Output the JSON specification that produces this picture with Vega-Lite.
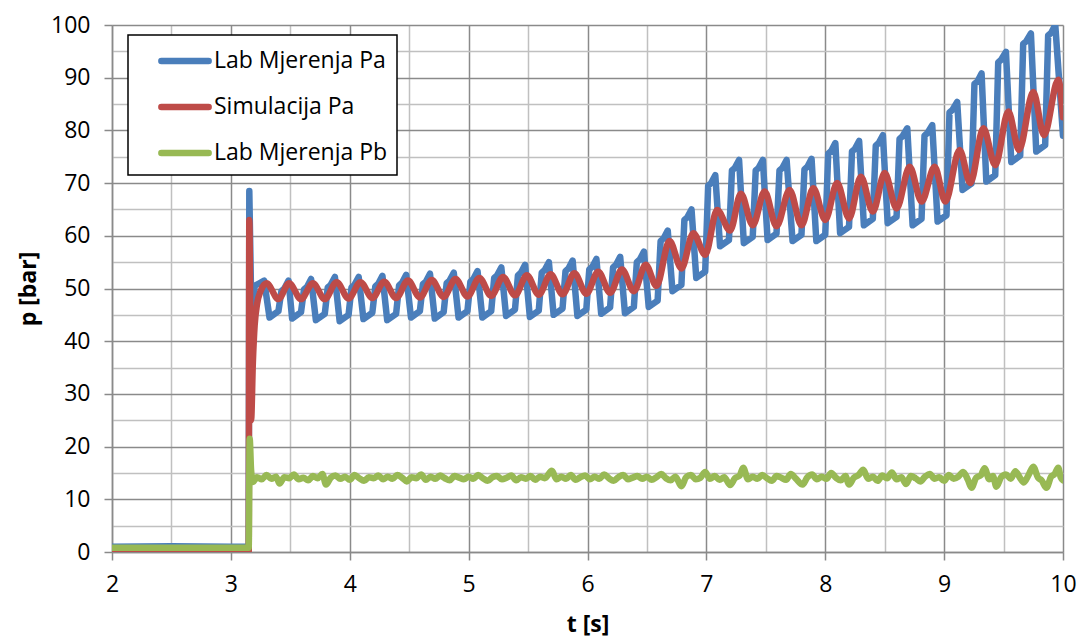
{
  "$schema": "https://vega.github.io/schema/vega-lite/v6.json",
  "width": 951,
  "height": 527,
  "autosize": {"type": "none"},
  "padding": {"left": 112, "top": 25, "right": 15, "bottom": 90},
  "background": "white",
  "config": {
    "view": {"stroke": null},
    "font": "Open Sans",
    "axis": {"labelColor": "#000000", "titleColor": "#000000", "labelFont": "Open Sans", "titleFont": "Open Sans"}
  },
  "datasets": {
    "blue": [
      {"t": 2.0, "p": 1.0}, {"t": 2.5, "p": 1.1}, {"t": 3.0, "p": 1.0}, {"t": 3.15, "p": 1.0},
      {"t": 3.155, "p": 68.5}, {"t": 3.175, "p": 42.0}, {"t": 3.2, "p": 50.5}, {"t": 3.24, "p": 51.0}, {"t": 3.28, "p": 51.5},
      {"t": 3.325, "p": 44.5}, {"t": 3.4, "p": 45.7}, {"t": 3.425, "p": 49.5}, {"t": 3.45, "p": 50.0}, {"t": 3.485, "p": 51.5},
      {"t": 3.515, "p": 44.3}, {"t": 3.59, "p": 45.5}, {"t": 3.615, "p": 49.8}, {"t": 3.64, "p": 50.3}, {"t": 3.675, "p": 51.8},
      {"t": 3.715, "p": 44.0}, {"t": 3.79, "p": 45.2}, {"t": 3.815, "p": 50.2}, {"t": 3.84, "p": 50.7}, {"t": 3.875, "p": 52.2},
      {"t": 3.915, "p": 43.8}, {"t": 3.99, "p": 45.0}, {"t": 4.015, "p": 50.2}, {"t": 4.04, "p": 50.7}, {"t": 4.075, "p": 52.2},
      {"t": 4.115, "p": 44.2}, {"t": 4.19, "p": 45.4}, {"t": 4.215, "p": 50.4}, {"t": 4.24, "p": 50.9}, {"t": 4.275, "p": 52.4},
      {"t": 4.315, "p": 44.0}, {"t": 4.39, "p": 45.2}, {"t": 4.415, "p": 50.6}, {"t": 4.44, "p": 51.1}, {"t": 4.475, "p": 52.6},
      {"t": 4.515, "p": 44.5}, {"t": 4.59, "p": 45.7}, {"t": 4.615, "p": 50.8}, {"t": 4.64, "p": 51.3}, {"t": 4.675, "p": 52.8},
      {"t": 4.715, "p": 44.3}, {"t": 4.79, "p": 45.5}, {"t": 4.815, "p": 51.0}, {"t": 4.84, "p": 51.5}, {"t": 4.875, "p": 53.0},
      {"t": 4.915, "p": 44.5}, {"t": 4.99, "p": 45.7}, {"t": 5.015, "p": 51.3}, {"t": 5.04, "p": 51.8}, {"t": 5.075, "p": 53.3},
      {"t": 5.115, "p": 44.5}, {"t": 5.19, "p": 45.7}, {"t": 5.215, "p": 52.0}, {"t": 5.24, "p": 52.5}, {"t": 5.275, "p": 54.0},
      {"t": 5.315, "p": 44.8}, {"t": 5.39, "p": 46.0}, {"t": 5.415, "p": 52.5}, {"t": 5.44, "p": 53.0}, {"t": 5.475, "p": 54.5},
      {"t": 5.515, "p": 44.6}, {"t": 5.59, "p": 45.8}, {"t": 5.615, "p": 53.0}, {"t": 5.64, "p": 53.5}, {"t": 5.675, "p": 55.0},
      {"t": 5.715, "p": 45.0}, {"t": 5.79, "p": 46.2}, {"t": 5.815, "p": 53.3}, {"t": 5.84, "p": 53.8}, {"t": 5.875, "p": 55.3},
      {"t": 5.915, "p": 44.8}, {"t": 5.99, "p": 46.0}, {"t": 6.015, "p": 53.6}, {"t": 6.04, "p": 54.1}, {"t": 6.075, "p": 55.6},
      {"t": 6.115, "p": 45.2}, {"t": 6.19, "p": 46.4}, {"t": 6.215, "p": 54.0}, {"t": 6.24, "p": 54.5}, {"t": 6.275, "p": 56.0},
      {"t": 6.315, "p": 45.3}, {"t": 6.39, "p": 46.5}, {"t": 6.415, "p": 55.0}, {"t": 6.44, "p": 55.5}, {"t": 6.475, "p": 57.0},
      {"t": 6.515, "p": 46.5}, {"t": 6.59, "p": 47.7}, {"t": 6.615, "p": 59.0}, {"t": 6.64, "p": 59.5}, {"t": 6.675, "p": 61.0},
      {"t": 6.715, "p": 49.5}, {"t": 6.79, "p": 50.7}, {"t": 6.815, "p": 63.0}, {"t": 6.84, "p": 63.5}, {"t": 6.875, "p": 65.0},
      {"t": 6.915, "p": 52.0}, {"t": 6.99, "p": 53.2}, {"t": 7.015, "p": 69.5}, {"t": 7.04, "p": 70.0}, {"t": 7.075, "p": 71.5},
      {"t": 7.115, "p": 58.0}, {"t": 7.19, "p": 59.2}, {"t": 7.215, "p": 72.4}, {"t": 7.24, "p": 72.9}, {"t": 7.275, "p": 74.4},
      {"t": 7.315, "p": 58.6}, {"t": 7.39, "p": 59.8}, {"t": 7.415, "p": 72.4}, {"t": 7.44, "p": 72.9}, {"t": 7.475, "p": 74.4},
      {"t": 7.515, "p": 59.2}, {"t": 7.59, "p": 60.4}, {"t": 7.615, "p": 72.4}, {"t": 7.64, "p": 72.9}, {"t": 7.675, "p": 74.4},
      {"t": 7.725, "p": 59.0}, {"t": 7.8, "p": 60.2}, {"t": 7.825, "p": 72.6}, {"t": 7.85, "p": 73.1}, {"t": 7.885, "p": 74.6},
      {"t": 7.925, "p": 59.0}, {"t": 8.0, "p": 60.2}, {"t": 8.025, "p": 75.6}, {"t": 8.05, "p": 76.1}, {"t": 8.085, "p": 77.6},
      {"t": 8.125, "p": 60.5}, {"t": 8.2, "p": 61.7}, {"t": 8.225, "p": 76.0}, {"t": 8.25, "p": 76.5}, {"t": 8.285, "p": 78.0},
      {"t": 8.325, "p": 62.0}, {"t": 8.4, "p": 63.2}, {"t": 8.425, "p": 77.1}, {"t": 8.45, "p": 77.6}, {"t": 8.485, "p": 79.1},
      {"t": 8.525, "p": 62.4}, {"t": 8.6, "p": 63.6}, {"t": 8.625, "p": 78.4}, {"t": 8.65, "p": 78.9}, {"t": 8.69, "p": 80.4},
      {"t": 8.735, "p": 62.0}, {"t": 8.81, "p": 63.2}, {"t": 8.835, "p": 79.0}, {"t": 8.86, "p": 79.5}, {"t": 8.9, "p": 81.0},
      {"t": 8.945, "p": 62.7}, {"t": 9.02, "p": 63.9}, {"t": 9.045, "p": 83.4}, {"t": 9.07, "p": 83.9}, {"t": 9.11, "p": 85.4},
      {"t": 9.155, "p": 68.7}, {"t": 9.23, "p": 69.9}, {"t": 9.255, "p": 88.8}, {"t": 9.28, "p": 89.3}, {"t": 9.315, "p": 90.8},
      {"t": 9.355, "p": 70.3}, {"t": 9.43, "p": 71.5}, {"t": 9.455, "p": 92.9}, {"t": 9.48, "p": 93.4}, {"t": 9.52, "p": 94.9},
      {"t": 9.565, "p": 74.0}, {"t": 9.64, "p": 75.2}, {"t": 9.665, "p": 96.4}, {"t": 9.69, "p": 96.9}, {"t": 9.73, "p": 98.4},
      {"t": 9.775, "p": 76.0}, {"t": 9.85, "p": 77.2}, {"t": 9.875, "p": 98.0}, {"t": 9.9, "p": 98.5}, {"t": 9.935, "p": 100.0},
      {"t": 10.0, "p": 79.0}
    ],
    "red": [
      {"t": 2.0, "p": 0}, {"t": 3.15, "p": 0}, {"t": 3.155, "p": 63}, {"t": 3.17, "p": 25}, {"t": 3.185, "p": 36},
      {"t": 3.2, "p": 43}, {"t": 3.22, "p": 47}, {"t": 3.25, "p": 49.5},
      {"t": 3.3, "p": 51.0}, {"t": 3.4, "p": 48.0}, {"t": 3.49, "p": 51.0}, {"t": 3.59, "p": 48.0},
      {"t": 3.69, "p": 51.0}, {"t": 3.79, "p": 48.0}, {"t": 3.89, "p": 51.2}, {"t": 3.99, "p": 48.1},
      {"t": 4.09, "p": 51.2}, {"t": 4.19, "p": 48.2}, {"t": 4.29, "p": 51.3}, {"t": 4.39, "p": 48.2},
      {"t": 4.49, "p": 51.5}, {"t": 4.59, "p": 48.3}, {"t": 4.69, "p": 51.6}, {"t": 4.79, "p": 48.4},
      {"t": 4.89, "p": 51.8}, {"t": 4.99, "p": 48.5}, {"t": 5.09, "p": 52.0}, {"t": 5.19, "p": 48.6},
      {"t": 5.29, "p": 52.2}, {"t": 5.39, "p": 48.7}, {"t": 5.49, "p": 52.5}, {"t": 5.59, "p": 48.8},
      {"t": 5.69, "p": 52.7}, {"t": 5.79, "p": 48.9}, {"t": 5.89, "p": 52.9}, {"t": 5.99, "p": 49.0},
      {"t": 6.09, "p": 53.2}, {"t": 6.19, "p": 49.2}, {"t": 6.29, "p": 53.6}, {"t": 6.39, "p": 49.5},
      {"t": 6.49, "p": 54.5}, {"t": 6.58, "p": 50.5}, {"t": 6.69, "p": 59.0}, {"t": 6.79, "p": 53.8},
      {"t": 6.89, "p": 60.5}, {"t": 6.99, "p": 56.4}, {"t": 7.09, "p": 64.9}, {"t": 7.2, "p": 61.0},
      {"t": 7.29, "p": 68.0}, {"t": 7.39, "p": 62.0}, {"t": 7.49, "p": 68.4}, {"t": 7.59, "p": 61.8},
      {"t": 7.7, "p": 68.7}, {"t": 7.8, "p": 62.0}, {"t": 7.9, "p": 69.0}, {"t": 8.0, "p": 63.0},
      {"t": 8.1, "p": 70.0}, {"t": 8.2, "p": 63.3}, {"t": 8.3, "p": 71.2}, {"t": 8.4, "p": 64.6},
      {"t": 8.5, "p": 71.9}, {"t": 8.6, "p": 65.2}, {"t": 8.71, "p": 73.1}, {"t": 8.81, "p": 66.5},
      {"t": 8.92, "p": 73.1}, {"t": 9.01, "p": 66.5}, {"t": 9.13, "p": 76.3}, {"t": 9.22, "p": 70.0},
      {"t": 9.33, "p": 80.4}, {"t": 9.43, "p": 73.4}, {"t": 9.54, "p": 83.6}, {"t": 9.63, "p": 76.3},
      {"t": 9.75, "p": 87.3}, {"t": 9.84, "p": 79.1}, {"t": 9.96, "p": 89.6}, {"t": 10.0, "p": 82.5}
    ],
    "green": [
      {"t": 2.0, "p": 0.8}, {"t": 2.5, "p": 0.8}, {"t": 3.0, "p": 0.8}, {"t": 3.15, "p": 0.8},
      {"t": 3.158, "p": 21.5}, {"t": 3.17, "p": 15.5}, {"t": 3.185, "p": 13.3}, {"t": 3.22, "p": 14.2},
      {"t": 3.26, "p": 13.8}, {"t": 3.3, "p": 14.6}, {"t": 3.34, "p": 13.9}, {"t": 3.38, "p": 14.3},
      {"t": 3.41, "p": 13.0}, {"t": 3.45, "p": 14.2}, {"t": 3.49, "p": 14.0}, {"t": 3.53, "p": 14.7},
      {"t": 3.57, "p": 13.8}, {"t": 3.61, "p": 14.1}, {"t": 3.65, "p": 13.6}, {"t": 3.69, "p": 14.4},
      {"t": 3.73, "p": 14.0}, {"t": 3.77, "p": 14.8}, {"t": 3.8, "p": 12.8}, {"t": 3.84, "p": 14.1},
      {"t": 3.88, "p": 14.5}, {"t": 3.92, "p": 13.9}, {"t": 3.96, "p": 14.3}, {"t": 4.0, "p": 13.7},
      {"t": 4.04, "p": 14.6}, {"t": 4.08, "p": 14.0}, {"t": 4.12, "p": 13.5}, {"t": 4.16, "p": 14.2},
      {"t": 4.2, "p": 14.0}, {"t": 4.24, "p": 14.5}, {"t": 4.28, "p": 13.8}, {"t": 4.32, "p": 14.3},
      {"t": 4.36, "p": 13.9}, {"t": 4.4, "p": 14.6}, {"t": 4.44, "p": 14.1}, {"t": 4.48, "p": 13.4},
      {"t": 4.52, "p": 14.2}, {"t": 4.56, "p": 14.0}, {"t": 4.6, "p": 14.7}, {"t": 4.64, "p": 13.7},
      {"t": 4.68, "p": 14.3}, {"t": 4.72, "p": 13.9}, {"t": 4.76, "p": 14.5}, {"t": 4.8, "p": 14.0},
      {"t": 4.84, "p": 13.6}, {"t": 4.88, "p": 14.4}, {"t": 4.92, "p": 14.1}, {"t": 4.96, "p": 13.8},
      {"t": 5.0, "p": 14.3}, {"t": 5.04, "p": 13.9}, {"t": 5.08, "p": 14.6}, {"t": 5.12, "p": 14.0},
      {"t": 5.16, "p": 13.5}, {"t": 5.2, "p": 14.2}, {"t": 5.24, "p": 14.4}, {"t": 5.28, "p": 13.8},
      {"t": 5.32, "p": 14.1}, {"t": 5.36, "p": 14.5}, {"t": 5.4, "p": 13.6}, {"t": 5.44, "p": 14.2},
      {"t": 5.48, "p": 13.9}, {"t": 5.52, "p": 14.4}, {"t": 5.56, "p": 13.7}, {"t": 5.6, "p": 14.3},
      {"t": 5.64, "p": 14.0}, {"t": 5.7, "p": 15.4}, {"t": 5.74, "p": 13.8}, {"t": 5.78, "p": 14.3},
      {"t": 5.82, "p": 13.9}, {"t": 5.86, "p": 14.6}, {"t": 5.9, "p": 13.7}, {"t": 5.94, "p": 14.2},
      {"t": 5.98, "p": 14.5}, {"t": 6.02, "p": 13.8}, {"t": 6.06, "p": 14.3}, {"t": 6.1, "p": 13.9},
      {"t": 6.14, "p": 14.7}, {"t": 6.18, "p": 14.0}, {"t": 6.22, "p": 13.5}, {"t": 6.26, "p": 14.2},
      {"t": 6.3, "p": 14.6}, {"t": 6.34, "p": 13.8}, {"t": 6.38, "p": 14.1}, {"t": 6.42, "p": 14.4},
      {"t": 6.46, "p": 13.9}, {"t": 6.5, "p": 14.3}, {"t": 6.54, "p": 13.7}, {"t": 6.58, "p": 14.2},
      {"t": 6.62, "p": 14.8}, {"t": 6.66, "p": 14.0}, {"t": 6.7, "p": 13.6}, {"t": 6.74, "p": 14.3},
      {"t": 6.79, "p": 12.5}, {"t": 6.83, "p": 14.2}, {"t": 6.87, "p": 14.6}, {"t": 6.91, "p": 13.8},
      {"t": 6.95, "p": 14.1}, {"t": 6.99, "p": 15.2}, {"t": 7.03, "p": 13.9}, {"t": 7.07, "p": 14.4},
      {"t": 7.11, "p": 13.7}, {"t": 7.15, "p": 14.2}, {"t": 7.2, "p": 12.7}, {"t": 7.24, "p": 14.0},
      {"t": 7.28, "p": 14.5}, {"t": 7.31, "p": 16.0}, {"t": 7.35, "p": 13.8}, {"t": 7.39, "p": 14.3},
      {"t": 7.43, "p": 13.9}, {"t": 7.47, "p": 14.6}, {"t": 7.51, "p": 14.0}, {"t": 7.55, "p": 13.5},
      {"t": 7.59, "p": 14.4}, {"t": 7.63, "p": 14.1}, {"t": 7.67, "p": 13.7}, {"t": 7.71, "p": 14.8},
      {"t": 7.75, "p": 14.0}, {"t": 7.81, "p": 12.8}, {"t": 7.85, "p": 14.2}, {"t": 7.89, "p": 14.7},
      {"t": 7.93, "p": 13.8}, {"t": 7.97, "p": 14.3}, {"t": 8.01, "p": 13.9}, {"t": 8.05, "p": 15.0},
      {"t": 8.09, "p": 14.1}, {"t": 8.13, "p": 13.6}, {"t": 8.17, "p": 14.4}, {"t": 8.2, "p": 12.8},
      {"t": 8.24, "p": 14.1}, {"t": 8.28, "p": 14.6}, {"t": 8.32, "p": 15.6}, {"t": 8.36, "p": 13.9},
      {"t": 8.4, "p": 14.3}, {"t": 8.44, "p": 13.5}, {"t": 8.48, "p": 14.5}, {"t": 8.52, "p": 14.0},
      {"t": 8.56, "p": 15.1}, {"t": 8.6, "p": 13.8}, {"t": 8.64, "p": 14.2}, {"t": 8.68, "p": 12.9},
      {"t": 8.72, "p": 14.4}, {"t": 8.76, "p": 14.0}, {"t": 8.8, "p": 13.4}, {"t": 8.84, "p": 14.3},
      {"t": 8.88, "p": 14.8}, {"t": 8.92, "p": 13.9}, {"t": 8.96, "p": 14.2}, {"t": 9.0, "p": 13.5},
      {"t": 9.04, "p": 14.6}, {"t": 9.08, "p": 13.9}, {"t": 9.12, "p": 14.3}, {"t": 9.16, "p": 15.2},
      {"t": 9.2, "p": 13.7}, {"t": 9.23, "p": 12.2}, {"t": 9.27, "p": 14.1}, {"t": 9.31, "p": 14.6},
      {"t": 9.34, "p": 15.9}, {"t": 9.38, "p": 13.8}, {"t": 9.41, "p": 14.4}, {"t": 9.44, "p": 12.4},
      {"t": 9.48, "p": 14.2}, {"t": 9.52, "p": 14.7}, {"t": 9.56, "p": 13.9}, {"t": 9.6, "p": 15.3},
      {"t": 9.64, "p": 14.0}, {"t": 9.67, "p": 13.2}, {"t": 9.71, "p": 14.6}, {"t": 9.75, "p": 16.2},
      {"t": 9.79, "p": 14.1}, {"t": 9.82, "p": 13.6}, {"t": 9.86, "p": 12.2}, {"t": 9.9, "p": 14.3},
      {"t": 9.93, "p": 14.8}, {"t": 9.96, "p": 16.0}, {"t": 9.98, "p": 14.2}, {"t": 10.0, "p": 13.6}
    ]
  },
  "layer": [
    {
      "data": {"name": "blue"},
      "mark": {"type": "line", "strokeWidth": 6.5, "strokeCap": "round", "strokeJoin": "round", "clip": true},
      "encoding": {
        "x": {
          "field": "t", "type": "quantitative",
          "scale": {"domain": [2, 10], "nice": false, "zero": false},
          "axis": {
            "orient": "bottom", "values": [2, 3, 4, 5, 6, 7, 8, 9, 10],
            "grid": true, "gridColor": "#8a8a8a", "gridWidth": 1.5,
            "domainColor": "#8a8a8a", "domainWidth": 1.5,
            "tickColor": "#8a8a8a", "tickWidth": 1.5, "tickSize": 8,
            "labelFontSize": 23, "labelPadding": 13, "labelFlush": false, "labelOverlap": false,
            "title": "t [s]", "titleFontSize": 23, "titleFontWeight": "bold", "titlePadding": 17
          }
        },
        "y": {
          "field": "p", "type": "quantitative",
          "scale": {"domain": [0, 100], "nice": false},
          "axis": {
            "orient": "left", "values": [0, 10, 20, 30, 40, 50, 60, 70, 80, 90, 100],
            "grid": true, "gridColor": "#8a8a8a", "gridWidth": 1.5,
            "domainColor": "#8a8a8a", "domainWidth": 1.5,
            "tickColor": "#8a8a8a", "tickWidth": 1.5, "tickSize": 8,
            "labelFontSize": 23, "labelPadding": 14, "labelFlush": false, "labelOverlap": false,
            "title": "p [bar]", "titleFontSize": 23, "titleFontWeight": "bold", "titlePadding": 10
          }
        },
        "color": {
          "datum": "Lab Mjerenja Pa", "type": "nominal",
          "scale": {
            "domain": ["Lab Mjerenja Pa", "Simulacija Pa", "Lab Mjerenja Pb"],
            "range": ["#4A7EBB", "#BE4B48", "#98B954"]
          },
          "legend": {
            "title": null, "orient": "none", "legendX": 16, "legendY": 10,
            "fillColor": "white", "strokeColor": "black", "padding": 9,
            "symbolType": "M-1.75,0H1.75", "symbolStrokeWidth": 6.5, "symbolSize": 729,
            "symbolOffset": 31, "labelFontSize": 23, "labelColor": "#000000", "labelFont": "Open Sans",
            "labelLimit": 500, "rowPadding": 16, "labelOffset": 12,
            "encode": {
              "symbols": {"update": {"strokeCap": {"value": "round"}, "fill": {"value": "transparent"}}},
              "legend": {"update": {"strokeWidth": {"value": 1.5}}}
            }
          }
        }
      }
    },
    {
      "data": {"name": "red"},
      "mark": {"type": "line", "strokeWidth": 6.5, "strokeCap": "round", "strokeJoin": "round", "interpolate": "monotone", "clip": true},
      "encoding": {
        "x": {
          "field": "t", "type": "quantitative",
          "axis": {
            "orient": "top", "values": [2.5, 3.5, 4.5, 5.5, 6.5, 7.5, 8.5, 9.5],
            "grid": true, "gridColor": "#c0c0c0", "gridWidth": 1.5,
            "domain": false, "ticks": false, "labels": false, "title": null
          }
        },
        "y": {
          "field": "p", "type": "quantitative",
          "axis": {
            "orient": "right", "values": [5, 15, 25, 35, 45, 55, 65, 75, 85, 95],
            "grid": true, "gridColor": "#c0c0c0", "gridWidth": 1.5,
            "domain": false, "ticks": false, "labels": false, "title": null
          }
        },
        "color": {"datum": "Simulacija Pa", "type": "nominal"}
      }
    },
    {
      "data": {"name": "green"},
      "mark": {"type": "line", "strokeWidth": 6.5, "strokeCap": "round", "strokeJoin": "round", "interpolate": "monotone", "clip": true},
      "encoding": {
        "x": {"field": "t", "type": "quantitative", "axis": null},
        "y": {"field": "p", "type": "quantitative", "axis": null},
        "color": {"datum": "Lab Mjerenja Pb", "type": "nominal"}
      }
    }
  ],
  "resolve": {"axis": {"x": "independent", "y": "independent"}}
}
